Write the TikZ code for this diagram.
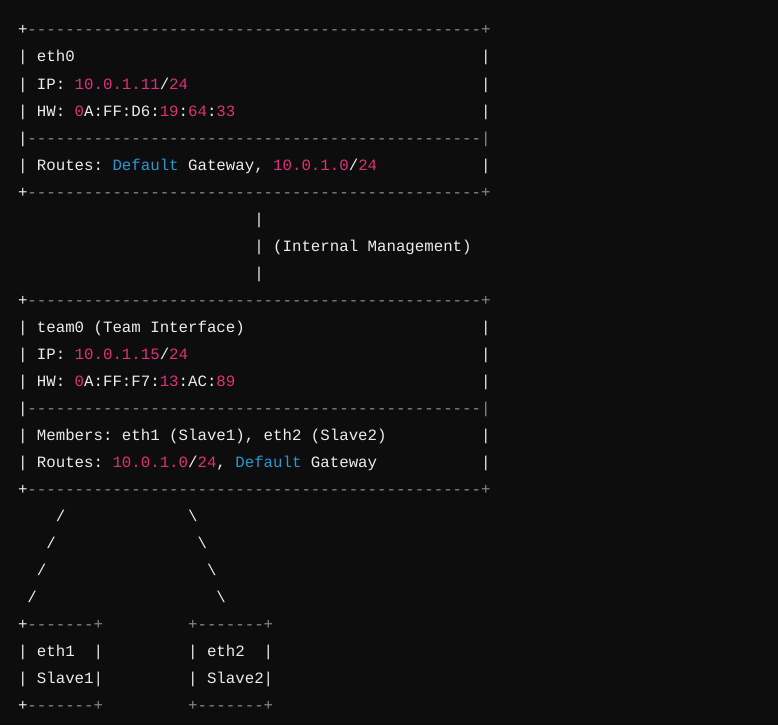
\documentclass[tikz,border=0pt]{standalone}
\usepackage{fontspec}
\setmonofont{Liberation Mono}
\definecolor{bgc}{HTML}{0D0D0D}
\definecolor{fgc}{HTML}{ECECEC}
\definecolor{grc}{HTML}{8A8A8A}
\definecolor{rdc}{HTML}{DF3079}
\definecolor{blc}{HTML}{2E95D3}
\newcommand\cR[1]{\textcolor{rdc}{#1}}
\newcommand\cB[1]{\textcolor{blc}{#1}}
\newcommand\cG[1]{\textcolor{grc}{#1}}
\newcommand\DL{------------------------------------------------}
\newcommand\DS{-------}
\begin{document}
\begin{tikzpicture}[x=1pt,y=1pt,
  ln/.style={anchor=base west,inner sep=0pt,outer sep=0pt,text=fgc,font=\ttfamily\fontsize{15.75}{18}\selectfont}]
\fill[bgc] (0,0) rectangle (778,-725);
\useasboundingbox (0,0) rectangle (778,-725);
\newcommand\at[3]{\node[ln] (n#2c#1) at ({18+9.45*#1},{-(35+27*#2)}) {#3};}
% eth0 box
\at{0}{0}{+\cG{\DL+}}
\at{0}{1}{| eth0}\at{49}{1}{|}
\at{0}{2}{| IP: \cR{10.0.1.11}/\cR{24}}\at{49}{2}{|}
\at{0}{3}{| HW: \cR{0}A:FF:D6:\cR{19}:\cR{64}:\cR{33}}\at{49}{3}{|}
\at{0}{4}{|\cG{\DL|}}
\at{0}{5}{| Routes: \cB{Default} Gateway, \cR{10.0.1.0}/\cR{24}}\at{49}{5}{|}
\at{0}{6}{+\cG{\DL+}}
% link
\at{25}{7}{|}
\at{25}{8}{| (Internal Management)}
\at{25}{9}{|}
% team0 box
\at{0}{10}{+\cG{\DL+}}
\at{0}{11}{| team0 (Team Interface)}\at{49}{11}{|}
\at{0}{12}{| IP: \cR{10.0.1.15}/\cR{24}}\at{49}{12}{|}
\at{0}{13}{| HW: \cR{0}A:FF:F7:\cR{13}:AC:\cR{89}}\at{49}{13}{|}
\at{0}{14}{|\cG{\DL|}}
\at{0}{15}{| Members: eth1 (Slave1), eth2 (Slave2)}\at{49}{15}{|}
\at{0}{16}{| Routes: \cR{10.0.1.0}/\cR{24}, \cB{Default} Gateway}\at{49}{16}{|}
\at{0}{17}{+\cG{\DL+}}
% branches
\at{4}{18}{/}\at{18}{18}{\textbackslash}
\at{3}{19}{/}\at{19}{19}{\textbackslash}
\at{2}{20}{/}\at{20}{20}{\textbackslash}
\at{1}{21}{/}\at{21}{21}{\textbackslash}
% slave boxes
\at{0}{22}{+\cG{\DS+}}\at{18}{22}{\cG{+\DS+}}
\at{0}{23}{| eth1}\at{8}{23}{|}\at{18}{23}{| eth2}\at{26}{23}{|}
\at{0}{24}{| Slave1|}\at{18}{24}{| Slave2|}
\at{0}{25}{+\cG{\DS+}}\at{18}{25}{\cG{+\DS+}}
\end{tikzpicture}
\end{document}
